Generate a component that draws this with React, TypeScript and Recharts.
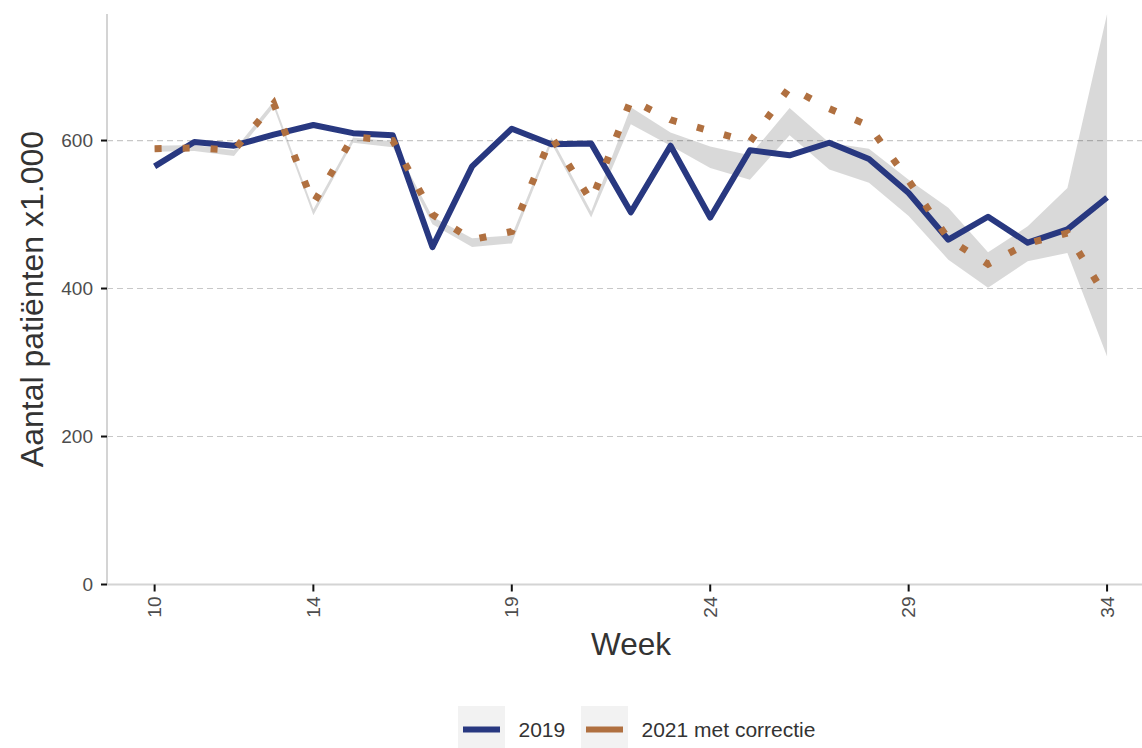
import React from 'react';
import {
  ComposedChart,
  Line,
  Area,
  XAxis,
  YAxis,
  CartesianGrid,
} from 'recharts';

const weeks = [10, 11, 12, 13, 14, 15, 16, 17, 18, 19, 20, 21, 22, 23, 24, 25, 26, 27, 28, 29, 30, 31, 32, 33, 34];

const patients2019 = [565, 598, 593, 608, 621, 610, 607, 456, 565, 616, 595, 596, 503, 593, 496, 587, 580, 597, 575, 529, 466, 497, 462, 480, 523];

const patients2021 = [589, 590, 587, 650, 515, 605, 600, 500, 466, 477, 605, 518, 655, 628, 613, 598, 672, 643, 620, 546, 467, 433, 461, 475, 386];

const bandLow = [585, 586, 579, 645, 499, 597, 591, 487, 456, 461, 596, 496, 622, 593, 563, 547, 607, 561, 543, 498, 439, 401, 437, 448, 308];
const bandHigh = [593, 594, 587, 653, 507, 604, 599, 497, 468, 472, 604, 504, 645, 611, 592, 580, 644, 597, 589, 547, 509, 449, 484, 536, 771];

const xTicks = [10, 14, 19, 24, 29, 34];
const yTicks = [0, 200, 400, 600];
const gridValues = [200, 400, 600];

const BLUE = '#283880';
const ORANGE = '#b07040';
const FONT = '"Liberation Sans", Arial, sans-serif';

const data = weeks.map((week, i) => ({
  week,
  y2019: patients2019[i],
  y2021: patients2021[i],
  band: [bandLow[i], bandHigh[i]],
}));

const WeekTick = ({ x, y, payload }: any) => (
  <g transform={`translate(${x},${y})`}>
    <text
      x={0}
      y={0}
      dy="0.35em"
      transform="rotate(-90)"
      textAnchor="end"
      fontSize={19}
      fontFamily={FONT}
      fill="#4d4d4d"
    >
      {payload.value}
    </text>
  </g>
);

export default function App() {
  return (
    <div style={{ position: 'absolute', left: 0, top: 0, width: 1142, height: 748, overflow: 'hidden', background: '#fff' }}>
      <ComposedChart
        width={1142}
        height={748}
        data={data}
        margin={{ top: 14, right: 0, bottom: 103.5, left: 50 }}
      >
        <CartesianGrid
          vertical={false}
          horizontalValues={gridValues}
          stroke="#c8c8c8"
          strokeWidth={1.2}
          strokeDasharray="6 4"
        />
        <XAxis
          type="number"
          dataKey="week"
          domain={[8.8, 34.88]}
          ticks={xTicks}
          allowDataOverflow
          height={60}
          tickSize={7}
          tickMargin={5}
          tick={<WeekTick />}
          axisLine={{ stroke: '#d4d4d4', strokeWidth: 2 }}
          tickLine={{ stroke: '#111', strokeWidth: 2 }}
        />
        <YAxis
          type="number"
          domain={[0, 771]}
          ticks={yTicks}
          allowDataOverflow
          width={57}
          tickSize={6}
          tickMargin={8}
          tick={{ fill: '#4d4d4d', fontSize: 19, fontFamily: FONT }}
          axisLine={{ stroke: '#d4d4d4', strokeWidth: 2 }}
          tickLine={{ stroke: '#111', strokeWidth: 2 }}
        />
        <Area
          type="linear"
          dataKey="band"
          stroke="none"
          fill="#000"
          fillOpacity={0.15}
          isAnimationActive={false}
        />
        <Line
          type="linear"
          dataKey="y2019"
          stroke={BLUE}
          strokeWidth={6}
          strokeLinejoin="round"
          dot={false}
          isAnimationActive={false}
        />
        <Line
          type="linear"
          dataKey="y2021"
          stroke={ORANGE}
          strokeWidth={7}
          strokeDasharray="7 21"
          strokeLinecap="butt"
          dot={false}
          isAnimationActive={false}
        />
      </ComposedChart>

      {/* titles and legend */}
      <svg width={1142} height={748} style={{ position: 'absolute', left: 0, top: 0, pointerEvents: 'none' }}>
        <text x={631} y={654.5} textAnchor="middle" fontSize={31.5} fontFamily={FONT} fill="#333">
          Week
        </text>
        <text
          transform="translate(43,299) rotate(-90)"
          textAnchor="middle"
          fontSize={32}
          fontFamily={FONT}
          fill="#333"
        >
          Aantal patiënten x1.000
        </text>

        <rect x={458} y={706} width={47} height={47} fill="#f2f2f2" />
        <line x1={463} x2={500} y1={729.5} y2={729.5} stroke={BLUE} strokeWidth={6} />
        <text x={518.5} y={737} fontSize={21} fontFamily={FONT} fill="#333">2019</text>

        <rect x={581} y={706} width={47} height={47} fill="#f2f2f2" />
        <line x1={586} x2={623} y1={729.5} y2={729.5} stroke={ORANGE} strokeWidth={6} />
        <text x={641.5} y={737} fontSize={21} fontFamily={FONT} fill="#333">2021 met correctie</text>
      </svg>
    </div>
  );
}
